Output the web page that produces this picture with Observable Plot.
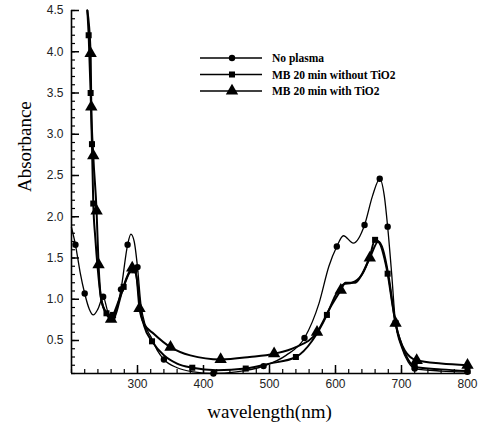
<!DOCTYPE html>
<html><head><meta charset="utf-8">
<script src="https://cdn.jsdelivr.net/npm/d3@7"></script>
<script src="https://cdn.jsdelivr.net/npm/@observablehq/plot@0.6"></script>
<style>
body{margin:0;background:#fff;}
#wrap{position:relative;width:487px;height:435px;overflow:hidden;}
.overlay{position:absolute;left:0;top:0;pointer-events:none;}
</style></head><body><div id="wrap"></div>
<script>
const seriesNames = ["No plasma", "MB 20 min without TiO2", "MB 20 min with TiO2"];
const seriesSymbols = ["circle", "square", "triangle"];
const seriesR = [3.2, 3.4, 4.6];
const seriesWidth = [1.3, 2, 2];

const xDomain = [200, 800];
const yDomain = [0.1, 4.5];
const xMajor = [300, 400, 500, 600, 700, 800];
const xMinor = d3.range(200, 801, 20);
const yMajor = [0.5, 1, 1.5, 2, 2.5, 3, 3.5, 4, 4.5];
const yMinor = d3.range(1, 46).map(d => d / 10);

// No plasma
const noPlasmaWl  = [200, 206, 213, 220, 227, 233, 240, 248, 255, 262, 268, 275, 285, 290, 295, 300, 305, 312, 320, 330, 340, 360, 385, 415, 450, 491, 525, 553, 575, 590, 602, 612, 627, 644, 656, 667, 674, 679, 685, 691, 700, 710, 720, 760, 800];
const noPlasmaAbs = [1.87, 1.66, 1.33, 1.07, 0.88, 0.81, 0.88, 1.03, 0.85, 0.78, 0.88, 1.12, 1.66, 1.79, 1.70, 1.39, 0.95, 0.68, 0.55, 0.38, 0.27, 0.17, 0.12, 0.10, 0.12, 0.19, 0.32, 0.53, 0.95, 1.40, 1.64, 1.77, 1.68, 1.90, 2.25, 2.46, 2.25, 1.88, 1.32, 0.71, 0.42, 0.24, 0.16, 0.13, 0.12];
const noPlasmaMarks = [206, 220, 248, 262, 275, 285, 300, 340, 415, 491, 553, 602, 644, 667, 679, 691, 720, 800];

// MB 20 min without TiO2
const withoutWl  = [224, 226, 229, 231, 233, 236, 240, 245, 253, 259, 263, 270, 279, 288, 295, 300, 304, 310, 322, 340, 360, 383, 420, 464, 500, 540, 565, 587, 600, 612, 625, 640, 652, 660, 668, 674, 679, 685, 691, 700, 710, 720, 760, 800];
const withoutAbs = [4.5, 4.2, 3.5, 2.88, 2.16, 1.75, 1.35, 1.0, 0.83, 0.77, 0.81, 0.95, 1.15, 1.32, 1.35, 1.2, 0.9, 0.68, 0.49, 0.32, 0.22, 0.17, 0.14, 0.16, 0.22, 0.30, 0.50, 0.81, 1.05, 1.18, 1.20, 1.30, 1.52, 1.72, 1.66, 1.50, 1.31, 1.00, 0.71, 0.45, 0.27, 0.18, 0.15, 0.13];
const withoutMarks = [226, 229, 231, 233, 253, 263, 279, 295, 322, 383, 464, 540, 587, 660, 679, 691, 720, 800];

// MB 20 min with TiO2
const withWl  = [224, 229, 230, 233, 238, 241, 245, 253, 260, 266, 275, 283, 292, 298, 303, 310, 325, 350, 380, 426, 470, 507, 540, 572, 592, 608, 615, 630, 640, 652, 665, 672, 680, 691, 705, 723, 760, 800];
const withAbs = [4.5, 3.98, 3.33, 2.74, 2.07, 1.42, 1.0, 0.82, 0.76, 0.80, 1.05, 1.25, 1.38, 1.30, 0.89, 0.70, 0.58, 0.42, 0.32, 0.27, 0.30, 0.34, 0.42, 0.60, 0.90, 1.11, 1.20, 1.20, 1.30, 1.50, 1.70, 1.60, 1.30, 0.71, 0.38, 0.26, 0.22, 0.20];
const withMarks = [229, 230, 233, 238, 241, 260, 292, 303, 350, 426, 507, 572, 608, 652, 691, 723, 800];

const series = [
  [noPlasmaWl, noPlasmaAbs, noPlasmaMarks],
  [withoutWl, withoutAbs, withoutMarks],
  [withWl, withAbs, withMarks]
].map(([wl, ab, mk], i) => {
  const pts = wl.map((w, j) => ({wl: w, abs: ab[j]}));
  return {name: seriesNames[i], pts, marks: pts.filter(p => mk.includes(p.wl))};
});

const serif = "'Liberation Serif', 'Times New Roman', serif";
const sans = "'Liberation Sans', Arial, sans-serif";

const W = 487, H = 435, mL = 71, mR = 20, mT = 10, mB = 62;
const plotW = W - mL - mR, plotH = H - mT - mB;

const marks = [
  // inward ticks: full-frame rules trimmed by insets
  Plot.ruleX(xMinor, {x: d => d, insetTop: plotH - 4, stroke: "#000", strokeWidth: 1.2}),
  Plot.ruleX(xMajor, {x: d => d, insetTop: plotH - 8, stroke: "#000", strokeWidth: 1.5}),
  Plot.ruleY(yMinor, {y: d => d, insetRight: plotW - 4, stroke: "#000", strokeWidth: 1.2}),
  Plot.ruleY(yMajor, {y: d => d, insetRight: plotW - 8, stroke: "#000", strokeWidth: 1.5}),
  Plot.axisX(xMajor, {anchor: "bottom", tickSize: 0, tickPadding: 6, label: null, fill: "#222", fontFamily: sans, fontSize: 12}),
  Plot.axisY(yMajor, {anchor: "left", tickSize: 0, tickPadding: 8, label: null, fill: "#222", fontFamily: sans, fontSize: 12}),
  Plot.ruleX([xDomain[0]], {stroke: "#000", strokeWidth: 1.6}),
  Plot.ruleY([yDomain[0]], {stroke: "#000", strokeWidth: 1.6})
];
series.forEach((s, i) => {
  marks.push(Plot.line(s.pts, {x: "wl", y: "abs", curve: "monotone-x", stroke: "#000", strokeWidth: seriesWidth[i]}));
});
series.forEach((s, i) => {
  marks.push(Plot.dot(s.marks, {x: "wl", y: "abs", symbol: seriesSymbols[i], r: seriesR[i], fill: "#000", stroke: "none"}));
});
marks.push(
  Plot.text(["wavelength(nm)"], {frameAnchor: "bottom", dy: 44, fontFamily: serif, fontSize: 19, fill: "#000"}),
  Plot.text(["Absorbance"], {frameAnchor: "left", rotate: -90, dx: -47, fontFamily: serif, fontSize: 19, fill: "#000"})
);

const chart = Plot.plot({
  width: W, height: H,
  marginLeft: mL, marginRight: mR, marginTop: mT, marginBottom: mB,
  x: {domain: xDomain},
  y: {domain: yDomain},
  style: {background: "#fff", color: "#000", fontFamily: sans, fontSize: "12px"},
  marks
});
const wrap = document.getElementById("wrap");
wrap.appendChild(chart);

// Legend overlay
const leg = d3.select(wrap).append("svg").attr("class", "overlay").attr("width", W).attr("height", 120);
const rows = [58, 74.5, 91];
const symMap = {circle: d3.symbolCircle, square: d3.symbolSquare, triangle: d3.symbolTriangle};
seriesNames.forEach((name, i) => {
  const g = leg.append("g").attr("transform", `translate(0,${rows[i]})`);
  g.append("line").attr("x1", 200).attr("x2", 262).attr("y1", 0).attr("y2", 0).attr("stroke", "#000").attr("stroke-width", 1.6);
  g.append("path").attr("transform", "translate(232,0)")
    .attr("d", d3.symbol(symMap[seriesSymbols[i]], Math.PI * seriesR[i] * seriesR[i])())
    .attr("fill", "#000");
  g.append("text").attr("x", 272).attr("y", 0).attr("dy", "0.35em")
    .attr("font-family", serif).attr("font-weight", "bold").attr("font-size", 11.5).attr("fill", "#000").text(name);
});
</script>
</body></html>
